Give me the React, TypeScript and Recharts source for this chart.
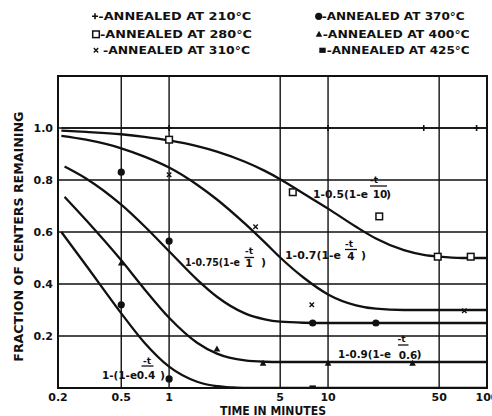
import React from 'react';
import {
  ComposedChart,
  Line,
  Scatter,
  XAxis,
  YAxis,
  CartesianGrid,
  ReferenceArea,
} from 'recharts';

type Pt = { t: number; v: number };

const xTicks = [0.2, 0.5, 1, 5, 10, 50, 100];
const yTicks = [0.2, 0.4, 0.6, 0.8, 1.0];

// drawn decay curves (t in minutes, v = fraction remaining)
const curve210: Pt[] = [
  { t: 0.21, v: 1 },
  { t: 100, v: 1 },
];
const curve280: Pt[] = [
  { t: 0.21, v: 0.99 }, { t: 0.3, v: 0.985 }, { t: 0.5, v: 0.976 }, { t: 0.7, v: 0.966 },
  { t: 1, v: 0.952 }, { t: 1.5, v: 0.93 }, { t: 2, v: 0.909 }, { t: 3, v: 0.87 },
  { t: 4, v: 0.835 }, { t: 5, v: 0.803 }, { t: 7, v: 0.748 }, { t: 10, v: 0.69 },
  { t: 15, v: 0.62 }, { t: 20, v: 0.575 }, { t: 30, v: 0.53 }, { t: 40, v: 0.512 },
  { t: 50, v: 0.505 }, { t: 70, v: 0.5 }, { t: 100, v: 0.5 },
];
const curve310: Pt[] = [
  { t: 0.21, v: 0.97 }, { t: 0.3, v: 0.955 }, { t: 0.5, v: 0.922 }, { t: 0.7, v: 0.89 },
  { t: 1, v: 0.848 }, { t: 1.5, v: 0.782 }, { t: 2, v: 0.725 }, { t: 3, v: 0.632 },
  { t: 4, v: 0.56 }, { t: 5, v: 0.502 }, { t: 7, v: 0.425 }, { t: 10, v: 0.36 },
  { t: 15, v: 0.318 }, { t: 20, v: 0.305 }, { t: 30, v: 0.3 }, { t: 50, v: 0.3 },
  { t: 100, v: 0.3 },
];
const curve370: Pt[] = [
  { t: 0.22, v: 0.852 }, { t: 0.3, v: 0.806 }, { t: 0.5, v: 0.705 }, { t: 0.7, v: 0.622 },
  { t: 1, v: 0.526 }, { t: 1.5, v: 0.417 }, { t: 2, v: 0.351 }, { t: 3, v: 0.287 },
  { t: 4, v: 0.264 }, { t: 5, v: 0.255 }, { t: 7, v: 0.251 }, { t: 10, v: 0.25 },
  { t: 100, v: 0.25 },
];
const curve400: Pt[] = [
  { t: 0.22, v: 0.735 }, { t: 0.3, v: 0.646 }, { t: 0.5, v: 0.491 }, { t: 0.7, v: 0.38 },
  { t: 1, v: 0.27 }, { t: 1.5, v: 0.174 }, { t: 2, v: 0.132 }, { t: 3, v: 0.106 },
  { t: 4, v: 0.101 }, { t: 5, v: 0.1 }, { t: 100, v: 0.1 },
];
const curve425: Pt[] = [
  { t: 0.21, v: 0.6 }, { t: 0.3, v: 0.472 }, { t: 0.5, v: 0.287 }, { t: 0.7, v: 0.174 },
  { t: 1, v: 0.082 }, { t: 1.5, v: 0.024 }, { t: 2, v: 0.007 }, { t: 2.5, v: 0.002 },
  { t: 3, v: 0 }, { t: 100, v: 0 },
];

// measured points
const pts210: Pt[] = [
  { t: 1, v: 1 }, { t: 10, v: 1 }, { t: 40, v: 1 }, { t: 86, v: 1 },
];
const pts280: Pt[] = [
  { t: 1, v: 0.955 }, { t: 6, v: 0.753 }, { t: 21, v: 0.66 }, { t: 49, v: 0.505 }, { t: 79, v: 0.505 },
];
const pts310: Pt[] = [
  { t: 1, v: 0.82 }, { t: 3.5, v: 0.62 }, { t: 7.9, v: 0.32 }, { t: 72, v: 0.297 },
];
const pts370: Pt[] = [
  { t: 0.5, v: 0.83 }, { t: 0.5, v: 0.32 }, { t: 1, v: 0.565 }, { t: 1, v: 0.035 },
  { t: 8, v: 0.25 }, { t: 20, v: 0.25 },
];
const pts400: Pt[] = [
  { t: 0.5, v: 0.48 }, { t: 2, v: 0.15 }, { t: 3.9, v: 0.095 }, { t: 10, v: 0.095 }, { t: 34, v: 0.095 },
];
const pts425: Pt[] = [
  { t: 2, v: 0 }, { t: 8, v: 0 },
];

const INK = '#111';
const FONT = '"DejaVu Sans", "Liberation Sans", sans-serif';

const PlusMark = ({ cx, cy }: any) => (
  <path d={`M${cx - 3},${cy}H${cx + 3}M${cx},${cy - 3}V${cy + 3}`} stroke={INK} strokeWidth={1.6} />
);
const OpenSquare = ({ cx, cy }: any) => (
  <rect x={cx - 3.3} y={cy - 3.3} width={6.6} height={6.6} fill="#fff" stroke={INK} strokeWidth={1.5} />
);
const Cross = ({ cx, cy }: any) => (
  <path d={`M${cx - 2.2},${cy - 2.2}L${cx + 2.2},${cy + 2.2}M${cx + 2.2},${cy - 2.2}L${cx - 2.2},${cy + 2.2}`} stroke={INK} strokeWidth={1.4} />
);
const Dot = ({ cx, cy }: any) => <circle cx={cx} cy={cy} r={3.6} fill={INK} />;
const Tri = ({ cx, cy }: any) => (
  <path d={`M${cx},${cy - 3.6}L${cx + 3.3},${cy + 2.4}L${cx - 3.3},${cy + 2.4}Z`} fill={INK} />
);
const Block = ({ cx, cy }: any) => (
  <rect x={cx - 3.2} y={cy - 2.6} width={6.4} height={5.2} fill={INK} />
);

const legendRows = [
  { mark: PlusMark, mx: 95, tx: 98.3, w: 153, y: 20, text: '-ANNEALED AT 210°C' },
  { mark: OpenSquare, mx: 96, tx: 100, w: 152, y: 38, text: '-ANNEALED AT 280°C' },
  { mark: Cross, mx: 96, tx: 103, w: 147, y: 54, text: '-ANNEALED AT 310°C' },
  { mark: Dot, mx: 318.7, tx: 321.7, w: 143, y: 20, text: '-ANNEALED AT 370°C' },
  { mark: Tri, mx: 319, tx: 322.7, w: 147, y: 38, text: '-ANNEALED AT 400°C' },
  { mark: Block, mx: 322.5, tx: 326.7, w: 143, y: 54, text: '-ANNEALED AT 425°C' },
];

// curve annotations: 1 - A(1 - e^(-t/tau))
const formulas = [
  { main: '1-0.5(1-e', x: 313, w: 55, y: 198, nx: 374, ny: 183, b1: 370, b2: 387, by: 186, den: '10', dx: 380, dy: 198, paren: 386 },
  { main: '1-0.7(1-e', x: 285, w: 56, y: 259, nx: 349, ny: 246.5, b1: 345, b2: 357, by: 249.5, den: '4', dx: 351, dy: 260, paren: 361 },
  { main: '1-0.75(1-e', x: 185, w: 55, y: 265.5, nx: 249, ny: 254, b1: 244.5, b2: 254, by: 257.5, den: '1', dx: 249, dy: 267, paren: 261 },
  { main: '1-0.9(1-e', x: 338, w: 53, y: 358, nx: 401.5, ny: 342, b1: 398, b2: 408.5, by: 345, den: '0.6', dx: 408, dy: 358.5, paren: 416.5 },
  { main: '1-(1-e', x: 102, w: 35, y: 378.5, nx: 147, ny: 363.5, b1: 141.5, b2: 153.5, by: 366, den: '0.4', dx: 146, dy: 379, paren: 160 },
];

const Overlay = () => (
  <svg
    width={492}
    height={416}
    style={{ position: 'absolute', left: 0, top: 0, pointerEvents: 'none' }}
    fontFamily={FONT}
    fontWeight={700}
    fill={INK}
  >
    {legendRows.map((r) => {
      const Mark = r.mark;
      return (
        <g key={r.text}>
          <Mark cx={r.mx} cy={r.y - 3.7} />
          <text x={r.tx} y={r.y} fontSize={10} textLength={r.w} lengthAdjust="spacingAndGlyphs">
            {r.text}
          </text>
        </g>
      );
    })}

    {formulas.map((f) => (
      <g key={f.main + f.den}>
        <text x={f.x} y={f.y} fontSize={11} textLength={f.w} lengthAdjust="spacingAndGlyphs">
          {f.main}
        </text>
        <text x={f.nx} y={f.ny} fontSize={9} textAnchor="middle">-t</text>
        <line x1={f.b1} x2={f.b2} y1={f.by} y2={f.by} stroke={INK} strokeWidth={1.3} />
        <text x={f.dx} y={f.dy} fontSize={10.5} textAnchor="middle">{f.den}</text>
        <text x={f.paren} y={f.y} fontSize={11}>)</text>
      </g>
    ))}

    <text x={273} y={414.5} fontSize={12} textAnchor="middle" textLength={106} lengthAdjust="spacingAndGlyphs">
      TIME IN MINUTES
    </text>
    <text
      x={0}
      y={0}
      fontSize={12}
      textAnchor="middle"
      textLength={250}
      lengthAdjust="spacingAndGlyphs"
      transform="translate(22.5,236.7) rotate(-90)"
    >
      FRACTION OF CENTERS REMAINING
    </text>
  </svg>
);

const tickStyle = { fontSize: 11, fontWeight: 700, fill: INK, fontFamily: FONT };

export default function App() {
  return (
    <div style={{ position: 'absolute', left: 0, top: 0, width: 492, height: 416, background: '#fff' }}>
      <ComposedChart width={492} height={416} margin={{ top: 76, right: 5, bottom: 0, left: 0 }}>
        <CartesianGrid stroke={INK} strokeWidth={1.4} />
        <XAxis
          dataKey="t"
          type="number"
          scale="log"
          domain={[0.2, 100]}
          allowDataOverflow
          ticks={xTicks}
          interval={0}
          height={28}
          axisLine={false}
          tickLine={false}
          tickSize={0}
          tickMargin={5}
          tick={tickStyle}
        />
        <YAxis
          dataKey="v"
          type="number"
          domain={[0, 1.2]}
          allowDataOverflow
          ticks={yTicks}
          interval={0}
          width={58}
          axisLine={false}
          tickLine={false}
          tickSize={0}
          tickMargin={5}
          tick={tickStyle}
          tickFormatter={(v: number) => v.toFixed(1)}
        />
        <ReferenceArea x1={0.2} x2={100} y1={0} y2={1.2} fill="none" stroke={INK} strokeWidth={2} />

        <Line data={curve210} dataKey="v" type="linear" stroke={INK} strokeWidth={1.6} dot={false} isAnimationActive={false} />
        <Line data={curve280} dataKey="v" type="monotone" stroke={INK} strokeWidth={2.3} dot={false} isAnimationActive={false} />
        <Line data={curve310} dataKey="v" type="monotone" stroke={INK} strokeWidth={2.3} dot={false} isAnimationActive={false} />
        <Line data={curve370} dataKey="v" type="monotone" stroke={INK} strokeWidth={2.3} dot={false} isAnimationActive={false} />
        <Line data={curve400} dataKey="v" type="monotone" stroke={INK} strokeWidth={2.3} dot={false} isAnimationActive={false} />
        <Line data={curve425} dataKey="v" type="monotone" stroke={INK} strokeWidth={2.3} dot={false} isAnimationActive={false} />

        <Scatter data={pts210} dataKey="v" shape={PlusMark} isAnimationActive={false} />
        <Scatter data={pts280} dataKey="v" shape={OpenSquare} isAnimationActive={false} />
        <Scatter data={pts310} dataKey="v" shape={Cross} isAnimationActive={false} />
        <Scatter data={pts370} dataKey="v" shape={Dot} isAnimationActive={false} />
        <Scatter data={pts400} dataKey="v" shape={Tri} isAnimationActive={false} />
        <Scatter data={pts425} dataKey="v" shape={Block} isAnimationActive={false} />
      </ComposedChart>
      <Overlay />
    </div>
  );
}
